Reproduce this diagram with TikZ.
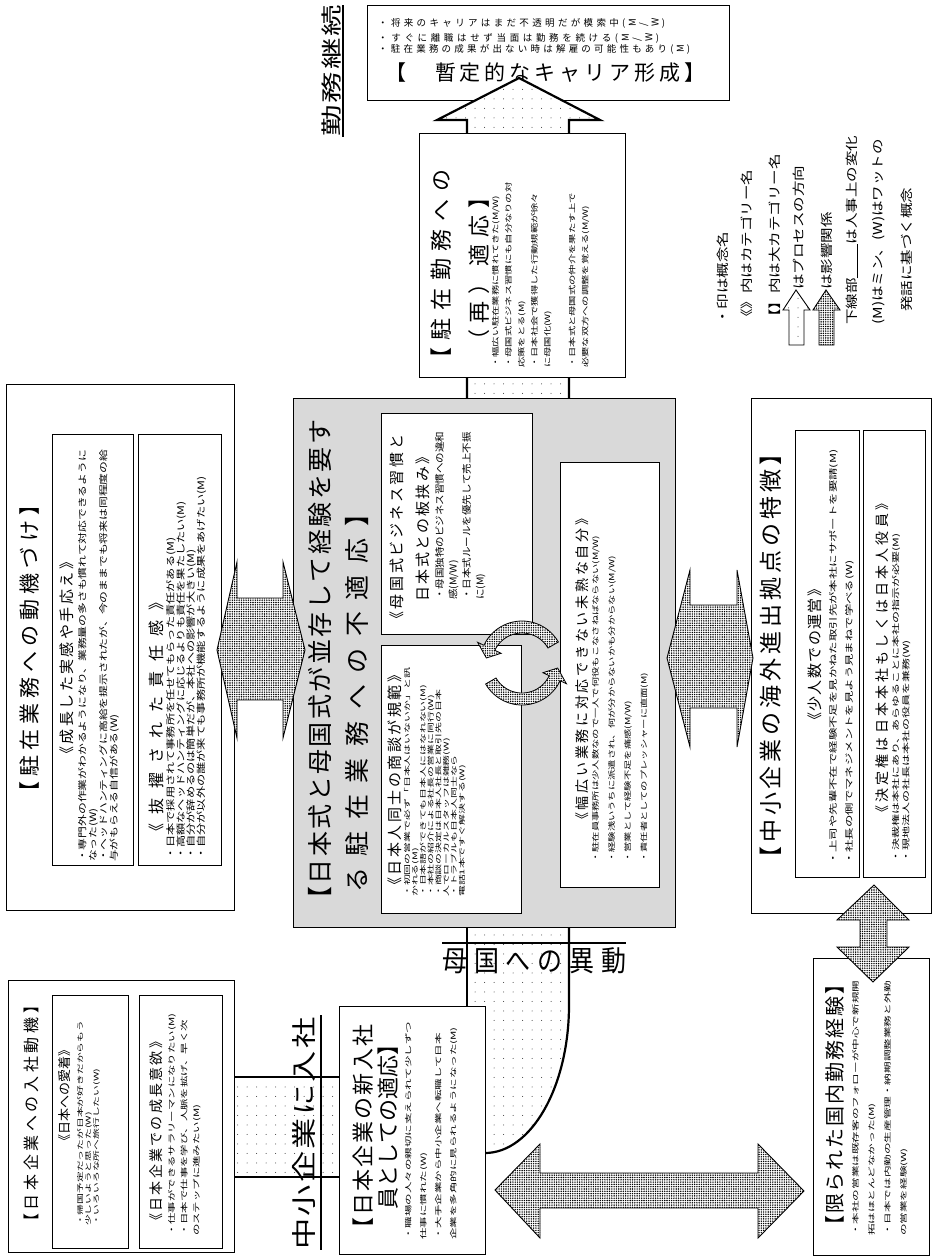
\documentclass[tikz,border=0pt]{standalone}
\usepackage{fontspec}
\setmainfont{Noto Sans CJK JP}
\usepackage{graphicx}
\usetikzlibrary{patterns.meta}
\def\distA#1{#1\distB}
\def\distB#1{\ifx\relax#1\else\hfil#1\expandafter\distB\fi}
\newcommand\dist[2]{\hbox to #1{\distA#2\relax}}
\newcommand\rlat[1]{\rotatebox{90}{#1}}
\newcommand\fsz[2]{\fontsize{#1}{#2}\selectfont}
\begin{document}
\begin{tikzpicture}[x=1pt,y=-1pt,
  box/.style={draw=black,line width=0.8pt,fill=white},
  obox/.style={draw=black,line width=1pt,fill=white},
  rt/.style={rotate=90,inner sep=0pt,align=left,anchor=north west},
  rc/.style={rotate=90,inner sep=0pt,anchor=west},
  sparse/.style={preaction={fill=white},pattern={Dots[radius=0.5pt,distance=9.5pt]},pattern color=black!80},
  dense/.style={preaction={fill=white},pattern={Dots[radius=0.8pt,distance=2.3pt]},pattern color=black},
  thin arrow/.style={draw=black,line width=0.9pt,line join=miter},
  thick edge/.style={draw=black,line width=2.2pt},
]
\fill[white] (0,0) rectangle (934,1258);
\useasboundingbox (0,0) rectangle (934,1258);

% ---------- top box
\draw[obox] (367,5) rectangle (729,100);
\node[anchor=base west,inner sep=0pt,font=\fsz{9.5}{10}] (t1) at (378,27) {\dist{287pt}{・将来のキャリアはまだ不透明だが模索中({\rlat{M}}{\rlat{/}}{\rlat{W}})}};
\node[anchor=base west,inner sep=0pt,font=\fsz{9.5}{10}] (t2) at (378,41) {\dist{281pt}{・すぐに離職はせず当面は勤務を続ける({\rlat{M}}{\rlat{/}}{\rlat{W}})}};
\node[anchor=base west,inner sep=0pt,font=\fsz{9.5}{10}] (t3) at (378,52) {\dist{312pt}{・駐在業務の成果が出ない時は解雇の可能性もあり({\rlat{M}})}};
\node[anchor=base west,inner sep=0pt,font=\fsz{21}{21}] (t4) at (385,80) {\dist{320pt}{【　暫定的なキャリア形成】}};

% ---------- big up arrow (process)
\path[sparse] (467,398) -- (467,120) -- (437,120) -- (519,78) -- (600,120) -- (569,120) -- (569,398) -- cycle;
\draw[black,line width=2.2pt,line join=miter] (467,398) -- (467,120) -- (437,120) -- (519,78) -- (600,120) -- (569,120) -- (569,398);

% ---------- return arrow (bogoku)
\path[sparse] (467,927) -- (569,927) -- (569,1005) .. controls (569,1087) and (531,1153) .. (485,1153) -- (467,1153) -- cycle;
\draw[thick edge] (467,927) -- (467,1010);
\draw[thick edge] (569,927) -- (569,1005) .. controls (569,1087) and (531,1153) .. (485,1153);

% ---------- nyusha band
\path[sparse] (234,1077) rectangle (339,1177);
\draw[thick edge] (234,1077) -- (339,1077);
\draw[thick edge] (234,1177) -- (339,1177);

% ---------- center box
\draw[box,fill=black!15] (293,398) rectangle (675,927);
\node[rc,font=\fsz{25}{25}] (c1) at (320,912) {\dist{492pt}{【日本式と母国式が並存して経験を要す}};
\node[rc,font=\fsz{25}{25}] (c2) at (357,893) {\dist{391pt}{る駐在業務への不適応】}};
\draw[box] (381,413) rectangle (532,634);
\node[rc,font=\fsz{15}{15}] (a1) at (397,627) {\dist{192pt}{《母国式ビジネス習慣と}};
\node[rc,font=\fsz{15}{15}] (a2) at (423,602) {\dist{152pt}{日本式との板挟み》}};
\node[rt,font=\fsz{10.5}{15},yscale=0.9] (a3) at (435,600) {・母国独特のビジネス習慣への違和\\感(M/W)\\・日本式ルールを優先して売上不振\\に(M)};
\draw[box] (381,645) rectangle (521,913);
\node[rc,font=\fsz{15}{15}] (b1) at (395,893) {\dist{225pt}{《日本人同士の商談が規範》}};
\node[rt,font=\fsz{10.9}{13},yscale=0.6] (b2) at (404,897) {・初回の営業で必ず「日本人はいないか」と訊\\かれる(M)\\・日本語ができても日本人にはなれない(M)\\・本社の紹介による社長の営業に同行(W)\\・商談の決定は日本人社長と取引先の日本\\人でローカルスタッフは雑務(W)\\・トラブルも日本人同士なら\\電話1本ですぐ解決する(W)};
\draw[box] (560,462) rectangle (659,887);
\node[rc,font=\fsz{14}{14}] (d1) at (582,827) {\dist{315pt}{《幅広い業務に対応できない未熟な自分》}};
\node[rt,font=\fsz{10.3}{23},yscale=0.7] (d2) at (592,863) {・駐在員事務所は少人数なので一人で何役もこなさねばならない(M/W)\\・経験浅いうちに派遣され、何が分からないかも分からない(M/W)\\・営業として経験不足を痛感(M/W)\\・責任者としてのプレッシャーに直面(M)};
% cycle arrows
\filldraw[dense,draw=black,line width=0.8pt] plot[domain=330:205,samples=30] ({522+42*cos(\x)},{663+42*sin(\x)}) -- ({522+49*cos(205)},{663+49*sin(205)}) -- ({522+36*cos(188)},{663+36*sin(188)}) -- ({522+23*cos(205)},{663+23*sin(205)}) -- plot[domain=205:330,samples=30] ({522+30*cos(\x)},{663+30*sin(\x)}) -- cycle;
\filldraw[dense,draw=black,line width=0.8pt] plot[domain=150:25,samples=30] ({522+42*cos(\x)},{663+42*sin(\x)}) -- ({522+49*cos(25)},{663+49*sin(25)}) -- ({522+36*cos(8)},{663+36*sin(8)}) -- ({522+23*cos(25)},{663+23*sin(25)}) -- plot[domain=25:150,samples=30] ({522+30*cos(\x)},{663+30*sin(\x)}) -- cycle;

% ---------- zaikin (re)adaptation box
\draw[obox] (419,133) rectangle (625,377);
\node[rc,font=\fsz{22}{22}] (z1) at (441,370) {\dist{200pt}{【駐在勤務への}};
\node[rc,font=\fsz{22}{22}] (z2) at (479,352) {\dist{165pt}{（再）適応】}};
\node[rt,font=\fsz{10.3}{18.5},yscale=0.7] (z3) at (492,368) {・幅広い駐在業務に慣れてきた(M/W)\\・母国式ビジネス習慣にも自分なりの対\\応策をとる(M)\\・日本社会で獲得した行動規範が徐々\\に母国化(W)\\[17pt]・日本式と母国式の仲介を果たす上で\\必要な双方への調整を覚える(M/W)};

% ---------- kinmu keizoku
\node[rc,font=\fsz{21}{21},xscale=1.5] (kk) at (332,137) {\dist{88pt}{勤務継続}};
\draw[line width=1.2pt] (343,5) -- (343,137);

% ---------- motivation box
\draw[obox] (6,384) rectangle (234,910);
\node[rc,font=\fsz{21}{21}] (m0) at (30,803) {\dist{308pt}{【駐在業務への動機づけ】}};
\draw[box] (52,434) rectangle (133,865);
\node[rc,font=\fsz{15}{15}] (m1) at (67,762) {\dist{207pt}{《成長した実感や手応え》}};
\node[rt,font=\fsz{11.8}{14},yscale=0.75] (m2) at (78,862) {・専門外の作業がわかるようになり、業務量の多さも慣れて対応できるように\\なった(W)\\・ヘッドハンティングに高給を提示されたが、今のままでも将来は同程度の給\\与がもらえる自信がある(W)};
\draw[box] (138,434) rectangle (221,865);
\node[rc,font=\fsz{16}{16}] (m3) at (156,840) {\dist{245pt}{《抜擢された責任感》}};
\node[rt,font=\fsz{12.2}{13.5},yscale=0.75] (m4) at (166,860) {・日本で採用されて事務所を任せてもらった責任がある(M)\\・高額なヘッドハンティングに応じるよりも責任を果たしたい(M)\\・自分が辞めるのは簡単だが、本社への影響が大きい(M)\\・自分が以外の誰が来ても事務所が機能するように成果をあげたい(M)};

% ---------- SME features box
\draw[obox] (751,398) rectangle (931,913);
\node[rc,font=\fsz{23}{23}] (s0) at (771,870) {\dist{427pt}{【中小企業の海外進出拠点の特徴】}};
\draw[box] (795,430) rectangle (859,877);
\node[rc,font=\fsz{15}{15}] (s1) at (815,728) {\dist{146pt}{《少人数での運営》}};
\node[rt,font=\fsz{12.4}{24},yscale=0.67] (s2) at (829,865) {・上司や先輩不在で経験不足を見かねた取引先が本社にサポートを要請(M)\\・社長の側でマネジメントを見よう見まねで学べる(W)};
\draw[box] (863,430) rectangle (925,877);
\node[rc,font=\fsz{14}{14}] (s3) at (882,820) {\dist{323pt}{《決定権は日本本社もしくは日本人役員》}};
\node[rt,font=\fsz{12}{15.4},yscale=0.65] (s4) at (892,863) {・決裁権は本社にあり、あらゆることに本社の指示が必要(M)\\・現地法人の社長は本社の役員を兼務(W)};

% ---------- entry motive box
\draw[obox] (8,980) rectangle (234,1252);
\node[rc,font=\fsz{16}{16}] (e0) at (31,1230) {\dist{232pt}{【日本企業への入社動機】}};
\draw[box] (52,995) rectangle (128,1248);
\node[rc,font=\fsz{13}{13}] (e1) at (65,1148) {\dist{85pt}{《日本への愛着》}};
\node[rt,font=\fsz{10.8}{13.3},yscale=0.6] (e2) at (77,1226) {・帰国予定だったが日本が好きだからもう\\少しいようと思った(W)\\・いろいろな所へ旅行したい(W)};
\draw[box] (139,995) rectangle (222,1248);
\node[rc,font=\fsz{14}{14}] (e3) at (156,1228) {\dist{193pt}{《日本企業での成長意欲》}};
\node[rt,font=\fsz{11.4}{19},yscale=0.65] (e4) at (168,1236) {・仕事ができるサラリーマンになりたい(M)\\・日本で仕事を学び、人脈を拡げ、早く次\\のステップに進みたい(M)};

% ---------- new employee box
\draw[obox] (339,1006) rectangle (485,1254);
\node[rc,font=\fsz{22}{22}] (n1) at (363,1240) {\dist{215pt}{【日本企業の新入社}};
\node[rc,font=\fsz{22}{22}] (n2) at (388,1210) {\dist{165pt}{員としての適応】}};
\node[rt,font=\fsz{11.5}{25},yscale=0.6] (n3) at (405,1240) {・職場の人々の親切に支えられて少しずつ\\仕事に慣れた(W)\\・大手企業から中小企業へ転職して日本\\企業を多角的に見られるようになった(M)};

% ---------- limited domestic box
\draw[obox] (813,958) rectangle (929,1255);
\node[rc,font=\fsz{20}{20}] (l0) at (835,1236) {\dist{261pt}{【限られた国内勤務経験】}};
\node[rt,font=\fsz{11.6}{26.7},yscale=0.6] (l1) at (852,1236) {・本社の営業は既存客のフォローが中心で新規開\\拓はほとんどなかった(M)\\・日本では内勤の生産管理・納期調整業務と外勤\\の営業を経験(W)};

% ---------- labels
\node[rc,font=\fsz{25}{25},xscale=1.25] (ny) at (304,1250) {\dist{186pt}{中小企業に入社}};
\draw[line width=1.2pt] (321,1015) -- (321,1250);
\node[anchor=base west,inner sep=0pt,font=\fsz{25}{25},yscale=1.15] (bk) at (442,971) {\dist{184pt}{母国への異動}};
\draw[line width=1.5pt] (442,943) -- (626,943);

% ---------- influence double arrows
\draw[dense,thin arrow] (217,650) -- (237,562) -- (237,598) -- (283,598) -- (283,562) -- (305,650) -- (283,738) -- (283,700) -- (237,700) -- (237,738) -- cycle;
\draw[dense,thin arrow] (667,658) -- (690,570) -- (690,605) -- (737,605) -- (737,570) -- (753,658) -- (737,747) -- (737,708) -- (690,708) -- (690,747) -- cycle;
\draw[dense,thin arrow] (495,1190) -- (540,1144) -- (540,1173) -- (758,1173) -- (758,1144) -- (804,1191) -- (758,1238) -- (758,1208) -- (540,1208) -- (540,1238) -- cycle;
\draw[dense,thin arrow] (874,885) -- (909,920) -- (887,920) -- (887,947) -- (909,947) -- (873,982) -- (837,947) -- (860,947) -- (860,920) -- (837,920) -- cycle;

% ---------- legend
\node[rc,font=\fsz{15.5}{15.5},yscale=0.8] (g1) at (723,325) {・印は概念名};
\node[rc,font=\fsz{15.5}{15.5},yscale=0.8] (g2) at (747,325) {《》内はカテゴリー名};
\node[rc,font=\fsz{15.5}{15.5},yscale=0.8] (g3) at (775,325) {【】内は大カテゴリー名};
\node[rc,font=\fsz{15.5}{15.5},yscale=0.8] (g4) at (799,290) {はプロセスの方向};
\node[rc,font=\fsz{15.5}{15.5},yscale=0.8] (g5) at (827,290) {は影響関係};
\node[rc,font=\fsz{15.5}{15.5},yscale=0.8] (g6) at (852,325) {下線部\rule[-1pt]{2.2em}{0.8pt}は人事上の変化};
\node[rc,font=\fsz{15.5}{15.5},yscale=0.8] (g7) at (879,325) {(M)はミン、(W)はワットの};
\node[rc,font=\fsz{15.5}{15.5},yscale=0.8] (g8) at (907,312) {発話に基づく概念};
\draw[sparse,draw=black,line width=0.9pt] (796,290) -- (810,310) -- (804,310) -- (804,345) -- (789,345) -- (789,310) -- (783,310) -- cycle;
\draw[dense,draw=black,line width=0.9pt] (826,290) -- (840,310) -- (834,310) -- (834,345) -- (819,345) -- (819,310) -- (813,310) -- cycle;
\end{tikzpicture}
\end{document}
